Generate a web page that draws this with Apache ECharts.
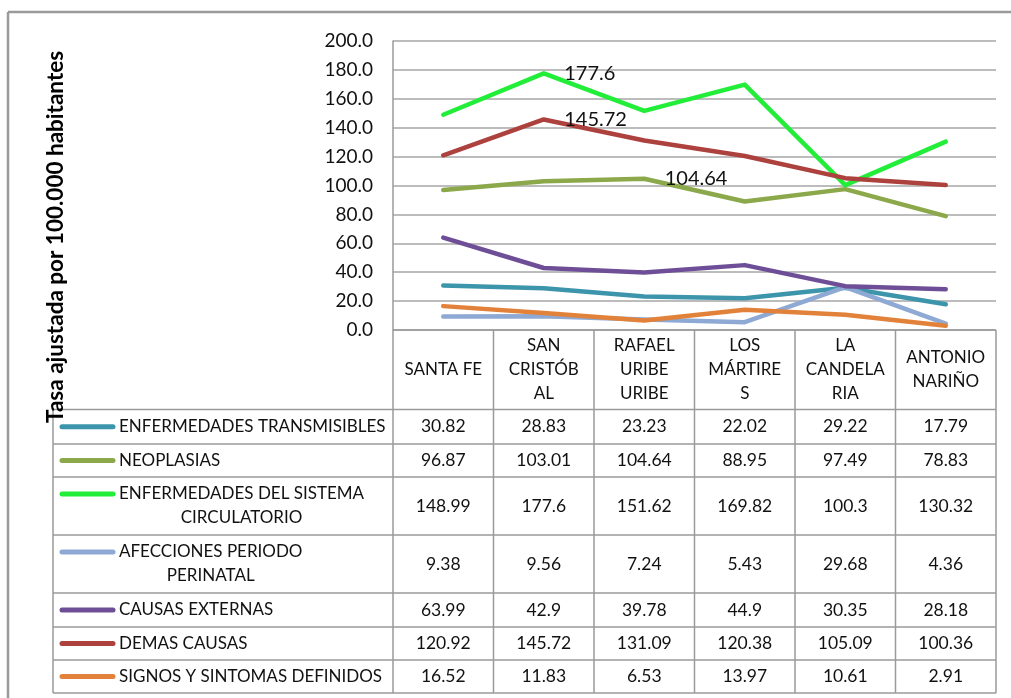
<!DOCTYPE html>
<html><head><meta charset="utf-8">
<script src="https://cdn.jsdelivr.net/npm/echarts@6/dist/echarts.min.js"></script>
<style>html,body{margin:0;padding:0;background:#fff}#c{width:1011px;height:698px}</style>
</head><body><div id="c"></div>
<script>
const categories = ['SANTA FE','SAN CRISTÓBAL','RAFAEL URIBE URIBE','LOS MÁRTIRES','LA CANDELARIA','ANTONIO NARIÑO'];
const headerLabels = ['SANTA FE','SAN\nCRISTÓB\nAL','RAFAEL\nURIBE\nURIBE','LOS\nMÁRTIRE\nS','LA\nCANDELA\nRIA','ANTONIO\nNARIÑO'];
const seriesNames = ['ENFERMEDADES TRANSMISIBLES','NEOPLASIAS','ENFERMEDADES DEL SISTEMA CIRCULATORIO','AFECCIONES PERIODO PERINATAL','CAUSAS EXTERNAS','DEMAS CAUSAS','SIGNOS Y SINTOMAS DEFINIDOS'];
const legendLabels = ['ENFERMEDADES TRANSMISIBLES','NEOPLASIAS','ENFERMEDADES DEL SISTEMA\nCIRCULATORIO','AFECCIONES PERIODO\nPERINATAL','CAUSAS EXTERNAS','DEMAS CAUSAS','SIGNOS Y SINTOMAS DEFINIDOS'];
const transmisibles = [30.82, 28.83, 23.23, 22.02, 29.22, 17.79];
const neoplasias    = [96.87, 103.01, 104.64, 88.95, 97.49, 78.83];
const circulatorio  = [148.99, 177.6, 151.62, 169.82, 100.3, 130.32];
const perinatal     = [9.38, 9.56, 7.24, 5.43, 29.68, 4.36];
const externas      = [63.99, 42.9, 39.78, 44.9, 30.35, 28.18];
const demas         = [120.92, 145.72, 131.09, 120.38, 105.09, 100.36];
const signos        = [16.52, 11.83, 6.53, 13.97, 10.61, 2.91];
const labeledIndex  = [null, 2, 1, null, null, 1, null];
const yMin = 0, yMax = 200, yStep = 20;
const yTitle = 'Tasa ajustada por 100.000 habitantes';

const seriesValues = [transmisibles, neoplasias, circulatorio, perinatal, externas, demas, signos];
const colors = ['#3C95AB', '#8BA84A', '#22EE3A', '#8EA9D3', '#6E4F97', '#AD413D', '#E2823A'];
const FONT = 'Lato';
const TXT = '#111';
const LINE = '#9a9a9a';

const chart = echarts.init(document.getElementById('c'), null, {renderer: 'canvas'});

const series = seriesValues.map((vals, s) => ({
  name: seriesNames[s],
  type: 'line',
  symbol: 'circle',
  symbolSize: 1,
  showSymbol: true,
  z: 3 + s,
  lineStyle: {color: colors[s], width: 4.5, join: 'round', cap: 'round'},
  itemStyle: {color: colors[s], borderWidth: 0},
  label: {show: false},
  data: vals.map((v, i) => (i === labeledIndex[s]) ? {
    value: v,
    label: {show: true, position: 'right', distance: 20, color: TXT,
      fontFamily: FONT, fontSize: 20, formatter: (p) => String(p.value)}
  } : v),
  animation: false
}));

chart.setOption({
  animation: false,
  backgroundColor: '#fff',
  grid: {left: 393, right: 15, top: 41, bottom: 368, containLabel: false},
  xAxis: {type: 'category', data: categories, boundaryGap: true,
    axisLine: {show: false}, axisTick: {show: false}, axisLabel: {show: false}, splitLine: {show: false}},
  yAxis: {type: 'value', min: yMin, max: yMax, interval: yStep,
    axisLine: {show: true, lineStyle: {color: LINE, width: 1.5}},
    axisTick: {show: false},
    axisLabel: {margin: 20, color: TXT, fontFamily: FONT, fontSize: 19, formatter: (v) => v.toFixed(1)},
    splitLine: {show: true, lineStyle: {color: '#a6a6a6', width: 1.5}}},
  series: series
});

// Build data table under the plot
const ctx = document.createElement('canvas').getContext('2d');
function textWidth(t, size, weight) {
  ctx.font = (weight || 'normal') + ' ' + size + 'px ' + FONT;
  return ctx.measureText(t).width;
}
const centers = categories.map((c, i) => chart.convertToPixel({xAxisIndex: 0}, i));
const band = centers[1] - centers[0];
const colEdges = [centers[0] - band / 2].concat(centers.map(c => c + band / 2));
const yAxisBottom = chart.convertToPixel({yAxisIndex: 0}, yMin);
const rowEdges = [409.5, 444, 477, 535, 593, 627, 660, 693];
const tableLeft = 53;
const g = [];
const ln = (x1, y1, x2, y2, w) => g.push({type: 'line', silent: true,
  shape: {x1, y1, x2, y2}, style: {stroke: LINE, lineWidth: w || 1.5}});

// outer chart frame
ln(8, 12, 1011, 12, 2.5);
ln(8, 12, 8, 698, 2.5);
// header horizontal line (category axis)
ln(colEdges[0], yAxisBottom, colEdges[colEdges.length - 1], yAxisBottom);
rowEdges.forEach(y => ln(tableLeft, y, colEdges[colEdges.length - 1], y));
colEdges.forEach(x => ln(x, yAxisBottom, x, rowEdges[rowEdges.length - 1]));
ln(tableLeft, rowEdges[0], tableLeft, rowEdges[rowEdges.length - 1]);

headerLabels.forEach((h, i) => g.push({type: 'text', silent: true, x: centers[i], y: (yAxisBottom + rowEdges[0]) / 2,
  style: {text: h, fill: TXT, font: '17px ' + FONT, align: 'center', verticalAlign: 'middle', lineHeight: 24}}));

const legendSize = 17;
seriesNames.forEach((n, s) => {
  const top = rowEdges[s], bot = rowEdges[s + 1], mid = (top + bot) / 2;
  const lines = legendLabels[s].split('\n');
  const lh = 24;
  const firstY = mid - (lines.length - 1) * lh / 2;
  g.push({type: 'line', silent: true, shape: {x1: 62, y1: firstY, x2: 113, y2: firstY},
    style: {stroke: colors[s], lineWidth: 5, lineCap: 'round'}});
  const maxW = Math.max(...lines.map(l => textWidth(l, legendSize)));
  g.push({type: 'text', silent: true, x: 119 + maxW / 2, y: mid,
    style: {text: legendLabels[s], fill: TXT, font: legendSize + 'px ' + FONT, align: 'center', verticalAlign: 'middle', lineHeight: lh}});
  seriesValues[s].forEach((v, i) => g.push({type: 'text', silent: true, x: centers[i], y: mid,
    style: {text: String(v), fill: TXT, font: '17.5px ' + FONT, align: 'center', verticalAlign: 'middle'}}));
});

g.push({type: 'text', silent: true, x: 56, y: 237, rotation: Math.PI / 2, z: 100,
  style: {text: yTitle, fill: '#000', font: 'bold 22.5px ' + FONT, align: 'center', verticalAlign: 'middle'}});

chart.setOption({graphic: {elements: g}});
</script></body></html>
